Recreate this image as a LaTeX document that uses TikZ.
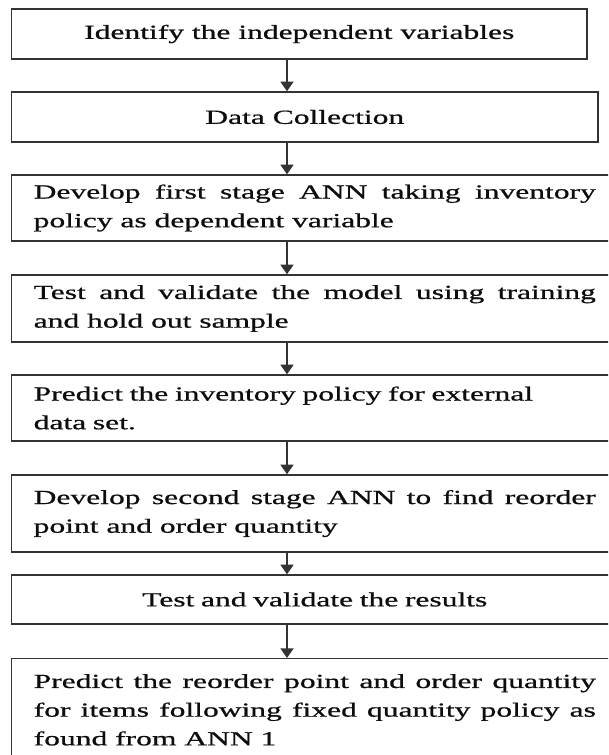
\documentclass[tikz,border=0pt]{standalone}
\usepackage{fontspec}
\setmainfont[FakeStretch=1.58,FakeBold=0.8]{Liberation Serif}
\usetikzlibrary{arrows.meta}

\tikzset{
  stepbox/.style={draw=black!80, line width=1pt, rectangle, inner xsep=0.55cm, inner ysep=0.2cm,
    font=\fontsize{14.2pt}{20.4pt}\selectfont, text=black!95},
  widebox/.style={stepbox, anchor=west, text width=14.05cm},
  flow/.style={line width=1.5pt, draw=black!80, -{Triangle[width=3.2mm,length=2.4mm]}}
}

\begin{document}
\begin{tikzpicture}[x=0.025cm, y=-0.025cm]

    \useasboundingbox (0,0) rectangle (608,755);
    \clip (0,0) rectangle (608,755);

    % steps, top to bottom
    \node[stepbox, anchor=west, minimum width=14.375cm, minimum height=1.25cm, align=center] (ident) at (11,34) {Identify the independent variables};
    \node[stepbox, anchor=west, minimum width=14.65cm, minimum height=1.25cm, align=center] (collect) at (11,117) {Data Collection};
    \node[widebox, minimum height=1.65cm, align=justify] (annone) at (11,208) {Develop first stage ANN taking inventory\linebreak policy as dependent variable};
    \node[widebox, minimum height=1.675cm, align=justify] (testone) at (11,308.5) {Test and validate the model using training\linebreak and hold out sample};
    \node[widebox, minimum height=1.65cm, align=left] (predone) at (11,408) {Predict the inventory policy for external\\ data set.};
    \node[widebox, minimum height=1.925cm, align=justify] (anntwo) at (11,513.5) {Develop second stage ANN to find reorder\linebreak point and order quantity};
    \node[widebox, minimum height=1.225cm, align=center] (testtwo) at (11,599.5) {Test and validate the results};
    \node[widebox, anchor=north west, inner ysep=0.385cm, align=justify] (predtwo) at (11,658) {Predict the reorder point and order quantity\linebreak for items following fixed quantity policy as\linebreak found from ANN 1};

    \coordinate (axis) at (287,0);

    \draw[flow] (ident.south -| axis) -- (collect.north -| axis);
    \draw[flow] (collect.south -| axis) -- (annone.north -| axis);
    \draw[flow] (annone.south -| axis) -- (testone.north -| axis);
    \draw[flow] (testone.south -| axis) -- (predone.north -| axis);
    \draw[flow] (predone.south -| axis) -- (anntwo.north -| axis);
    \draw[flow] (anntwo.south -| axis) -- (testtwo.north -| axis);
    \draw[flow] (testtwo.south -| axis) -- (predtwo.north -| axis);

\end{tikzpicture}
\end{document}
